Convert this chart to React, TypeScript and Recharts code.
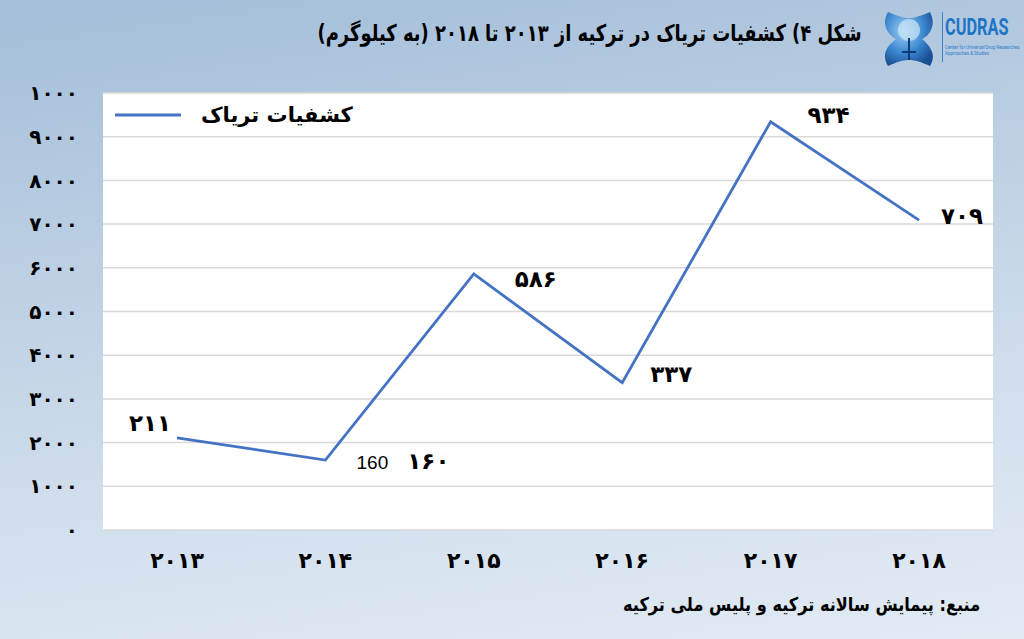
import { LineChart, Line, XAxis, YAxis, CartesianGrid, LabelList } from 'recharts'

// years on the x axis (Persian digits as in the source)
const years = ['۲۰۱۳', '۲۰۱۴', '۲۰۱۵', '۲۰۱۶', '۲۰۱۷', '۲۰۱۸']
// plotted height of each point, in axis units
const seizures = [2110, 1600, 5860, 3370, 9340, 7090]
// text printed next to each point
const pointLabels = ['۲۱۱', '۱۶۰', '۵۸۶', '۳۳۷', '۹۳۴', '۷۰۹']
const strayLabels = ['', '160', '', '', '', '']

const yTicks = [0, 1000, 2000, 3000, 4000, 5000, 6000, 7000, 8000, 9000, 10000]
const yTickLabels = ['۰', '۱۰۰۰', '۲۰۰۰', '۳۰۰۰', '۴۰۰۰', '۵۰۰۰', '۶۰۰۰', '۷۰۰۰', '۸۰۰۰', '۹۰۰۰', '۱۰۰۰']

const data = years.map((year, i) => ({ year, value: seizures[i], label: pointLabels[i], stray: strayLabels[i] }))

const FONT = '"DejaVu Sans", sans-serif'
const BLUE = '#4472c4'

// where each value label sits relative to its point
const labelShift = [
  { dx: -27, dy: -15 },
  { dx: 103, dy: 1 },
  { dx: 62, dy: 5 },
  { dx: 49, dy: -9 },
  { dx: 58, dy: -7 },
  { dx: 43, dy: -4 },
]

function PointLabel(props: any) {
  const { x, y, index } = props
  const s = labelShift[index]
  const d = data[index]
  return (
    <g>
      <text
        x={x + s.dx}
        y={y + s.dy}
        textAnchor="middle"
        dominantBaseline="central"
        fontFamily={FONT}
        fontWeight="bold"
        fontSize={23}
        fill="#000"
      >
        {d.label}
      </text>
      {d.stray && (
        <text
          x={x + 47}
          y={y + 2}
          textAnchor="middle"
          dominantBaseline="central"
          fontFamily='"Liberation Sans", sans-serif'
          fontSize={19}
          fill="#000"
        >
          {d.stray}
        </text>
      )}
    </g>
  )
}

function LegendBox() {
  return (
    <div style={{ position: 'absolute', left: 115, top: 103, display: 'flex', alignItems: 'center', fontFamily: FONT }}>
      <svg width={66} height={8}>
        <line x1={1} y1={4} x2={65} y2={4} stroke={BLUE} strokeWidth={3} strokeLinecap="round" />
      </svg>
      <span style={{ marginLeft: 20, fontWeight: 'bold', fontSize: 21, direction: 'rtl' }}>کشفیات تریاک</span>
    </div>
  )
}

function Logo() {
  return (
    <div style={{ position: 'absolute', left: 878, top: 8, width: 142, height: 62 }}>
      <svg width={62} height={62} style={{ position: 'absolute', left: 0, top: 0 }}>
        <defs>
          <radialGradient id="lg" cx="40%" cy="35%" r="70%">
            <stop offset="0%" stopColor="#9fd0f5" />
            <stop offset="60%" stopColor="#3a86cf" />
            <stop offset="100%" stopColor="#1a4f94" />
          </radialGradient>
        </defs>
        <path d="M10 4 C30 12 32 12 52 4 C60 20 48 30 44 31 C50 36 60 46 52 58 C34 50 28 50 10 58 C2 44 12 36 18 31 C12 28 2 18 10 4 Z" fill="url(#lg)" />
        <circle cx={31} cy={22} r={11} fill="#cfe6f7" opacity={0.7} />
        <line x1={31} y1={30} x2={31} y2={52} stroke="#0d3b75" strokeWidth={2} />
        <line x1={24} y1={44} x2={38} y2={44} stroke="#0d3b75" strokeWidth={2} />
      </svg>
      <div style={{ position: 'absolute', left: 64, top: 4, width: 1, height: 50, background: '#3a86cf' }} />
      <div
        style={{
          position: 'absolute',
          left: 67,
          top: 6,
          fontFamily: 'Roboto, sans-serif',
          fontWeight: 'bold',
          fontSize: 24,
          lineHeight: '26px',
          color: '#1e74c6',
          transform: 'scaleX(0.68)',
          transformOrigin: 'left top',
        }}
      >
        CUDRAS
      </div>
      <div style={{ position: 'absolute', left: 67, top: 37, fontFamily: 'Roboto, sans-serif', fontSize: 4.5, lineHeight: '6px', color: '#2d7ccc', whiteSpace: 'nowrap' }}>
        Center for Universal Drug Researches
        <br />
        Approaches &amp; Studies
      </div>
    </div>
  )
}

export default function App() {
  return (
    <div
      style={{
        position: 'absolute',
        left: 0,
        top: 0,
        width: 1024,
        height: 639,
        overflow: 'hidden',
        background: 'linear-gradient(172deg, #a3bed9 0%, #bccfe3 35%, #d3e0ee 70%, #e2ebf4 100%)',
      }}
    >
      <div
        style={{
          position: 'absolute',
          right: 162,
          top: 20,
          direction: 'rtl',
          fontFamily: FONT,
          fontWeight: 'bold',
          fontSize: 23,
          color: '#000',
          whiteSpace: 'nowrap',
          transform: 'scaleX(0.78)',
          transformOrigin: 'right top',
        }}
      >
        شکل ۴) کشفیات تریاک در ترکیه از ۲۰۱۳ تا ۲۰۱۸ (به کیلوگرم)
      </div>
      <Logo />
      <div style={{ position: 'absolute', left: 0, top: 0 }}>
        <LineChart width={1024} height={639} data={data} margin={{ top: 93, right: 31, bottom: 79, left: 0 }}>
          <CartesianGrid vertical={false} stroke="#d9d9d9" strokeWidth={1.5} fill="#ffffff" />
          <XAxis
            dataKey="year"
            height={30}
            padding={{ left: 74, right: 74 }}
            axisLine={false}
            tickLine={false}
            tickSize={0}
            tickMargin={22}
            tick={{ fontFamily: FONT, fontWeight: 'bold', fontSize: 22, fill: '#000' }}
          />
          <YAxis
            width={103}
            domain={[0, 10000]}
            ticks={yTicks}
            interval={0}
            axisLine={false}
            tickLine={false}
            tickSize={0}
            tickMargin={25}
            tickFormatter={(v: number) => yTickLabels[yTicks.indexOf(v)]}
            tick={{ fontFamily: FONT, fontWeight: 'bold', fontSize: 20, fill: '#000' }}
          />
          <Line
            type="linear"
            dataKey="value"
            stroke={BLUE}
            strokeWidth={2.8}
            dot={false}
            activeDot={false}
            isAnimationActive={false}
          >
            <LabelList dataKey="label" content={<PointLabel />} />
          </Line>
        </LineChart>
      </div>
      <LegendBox />
      <div
        style={{
          position: 'absolute',
          right: 44,
          top: 593,
          direction: 'rtl',
          fontFamily: FONT,
          fontWeight: 'bold',
          fontSize: 19,
          color: '#000',
          whiteSpace: 'nowrap',
          transform: 'scaleX(0.85)',
          transformOrigin: 'right top',
        }}
      >
        منبع: پیمایش سالانه ترکیه و پلیس ملی ترکیه
      </div>
    </div>
  )
}
